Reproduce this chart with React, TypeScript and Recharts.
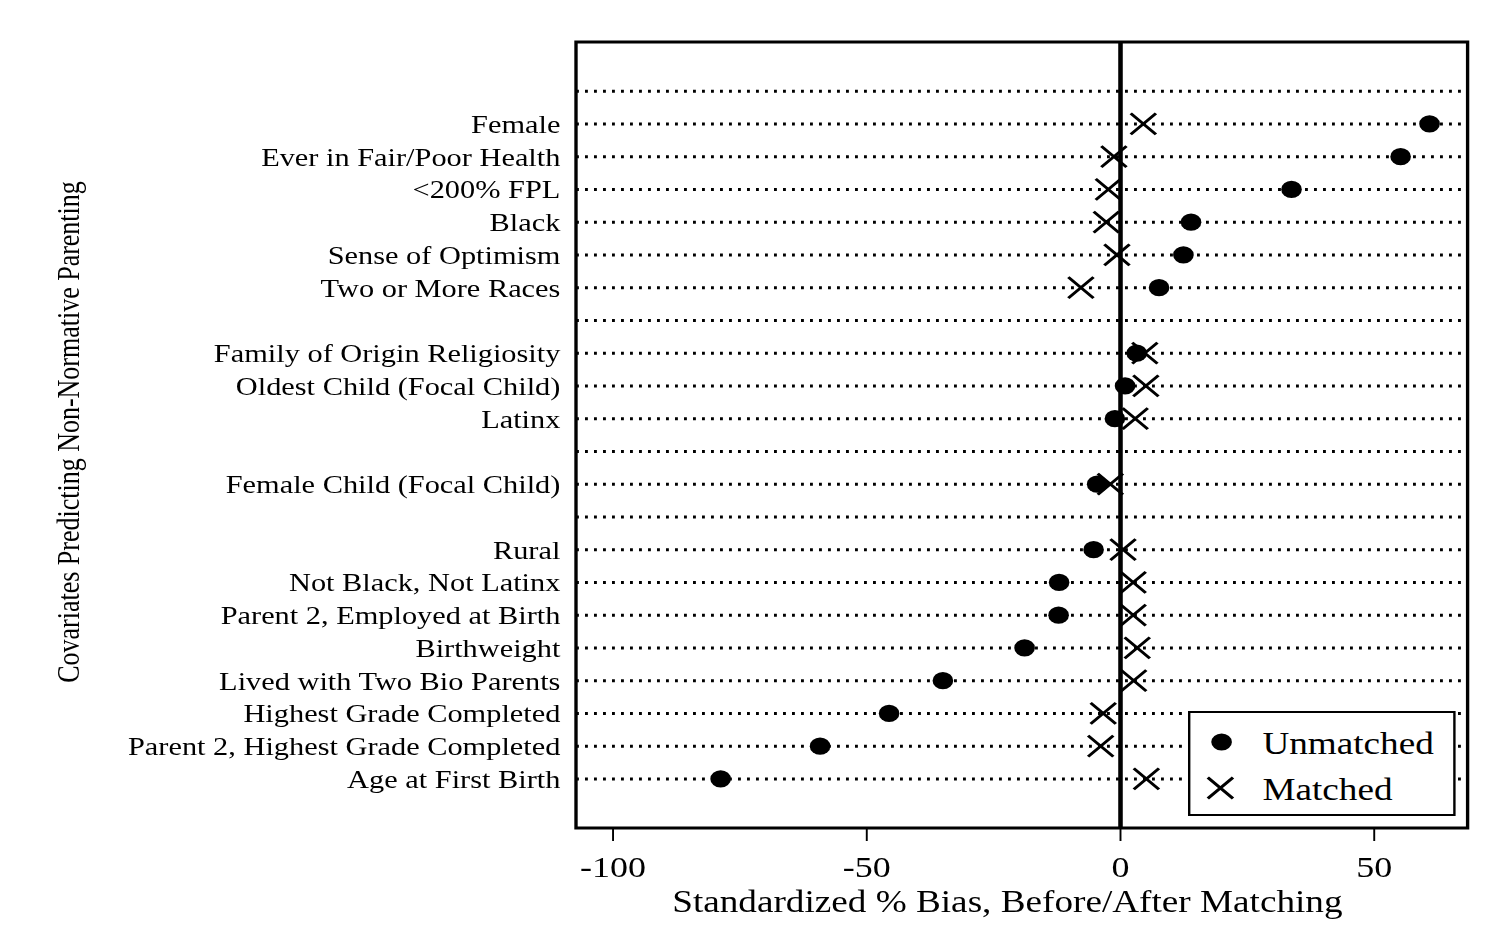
import {
  ScatterChart,
  Scatter,
  XAxis,
  YAxis,
  ReferenceLine,
  ReferenceArea,
  Legend,
} from "recharts";

// Rows from top to bottom; "" is a spacer row that only gets a dotted rule
const ROWS = [
  "",
  "Female",
  "Ever in Fair/Poor Health",
  "<200% FPL",
  "Black",
  "Sense of Optimism",
  "Two or More Races",
  "",
  "Family of Origin Religiosity",
  "Oldest Child (Focal Child)",
  "Latinx",
  "",
  "Female Child (Focal Child)",
  "",
  "Rural",
  "Not Black, Not Latinx",
  "Parent 2, Employed at Birth",
  "Birthweight",
  "Lived with Two Bio Parents",
  "Highest Grade Completed",
  "Parent 2, Highest Grade Completed",
  "Age at First Birth",
];

const COVARIATES = [
  "Female",
  "Ever in Fair/Poor Health",
  "<200% FPL",
  "Black",
  "Sense of Optimism",
  "Two or More Races",
  "Family of Origin Religiosity",
  "Oldest Child (Focal Child)",
  "Latinx",
  "Female Child (Focal Child)",
  "Rural",
  "Not Black, Not Latinx",
  "Parent 2, Employed at Birth",
  "Birthweight",
  "Lived with Two Bio Parents",
  "Highest Grade Completed",
  "Parent 2, Highest Grade Completed",
  "Age at First Birth",
];

// standardized % bias before matching
const UNMATCHED = [
  60.9, 55.2, 33.7, 13.9, 12.4, 7.6, 3.2, 0.9, -1.1, -4.6, -5.3, -12.1, -12.2,
  -18.9, -35.0, -45.6, -59.2, -78.8,
];

// standardized % bias after matching
const MATCHED = [
  4.5, -1.3, -2.4, -2.8, -0.7, -7.8, 4.8, 5.0, 2.9, -2.0, 0.5, 2.5, 2.5, 3.3,
  2.6, -3.4, -3.9, 5.1,
];

const SERIES = ["Unmatched", "Matched"];
const X_TICKS = [-100, -50, 0, 50];
const X_DOMAIN: [number, number] = [-107.3, 68.4];
const Y_DOMAIN: [number, number] = [-1.5, 22.5];

const FONT = '"Liberation Serif", "Times New Roman", Times, serif';
const SX = 1.2; // whole figure is drawn a little wide
const W = 1245;
const H = 952;

const rowOf = (name: string) => ROWS.indexOf(name);
const unmatchedData = COVARIATES.map((c, i) => ({ x: UNMATCHED[i], y: rowOf(c) }));
const matchedData = COVARIATES.map((c, i) => ({ x: MATCHED[i], y: rowOf(c) }));
const allRows = ROWS.map((_, i) => i);
const labelRows = ROWS.map((r, i) => (r ? i : -1)).filter((i) => i >= 0);

const Dot = ({ cx, cy }: any) => <circle cx={cx} cy={cy} r={8.6} fill="#000" />;

const Cross = ({ cx, cy }: any) => {
  const s = 10.5;
  return (
    <path
      d={`M${cx - s},${cy - s}L${cx + s},${cy + s}M${cx - s},${cy + s}L${cx + s},${cy - s}`}
      stroke="#000"
      strokeWidth={2.8}
      fill="none"
    />
  );
};

const RowTick = ({ x, y, payload }: any) => (
  <text x={x} y={y} dy={9} textAnchor="end" fontSize={25.3} fontFamily={FONT} fill="#000">
    {ROWS[payload.value]}
  </text>
);

const BiasTick = ({ x, y, payload }: any) => (
  <text x={x} y={y} dy={34} textAnchor="middle" fontSize={30} fontFamily={FONT} fill="#000">
    {payload.value}
  </text>
);

const LegendBox = ({ payload }: any) => {
  const items = SERIES.filter((s) => (payload || []).some((p: any) => p.value === s));
  return (
    <svg width={223} height={105}>
      <rect x={1} y={1} width={221} height={103} fill="#fff" stroke="#000" strokeWidth={2} />
      {items.map((name, i) => {
        const cy = 31 + i * 46;
        return (
          <g key={name}>
            {name === "Unmatched" ? <Dot cx={28} cy={cy} /> : <Cross cx={27} cy={cy} />}
            <text x={62} y={cy + 12} fontSize={31} fontFamily={FONT} fill="#000">
              {name}
            </text>
          </g>
        );
      })}
    </svg>
  );
};

export default function App() {
  return (
    <div style={{ width: W * SX, height: H, overflow: "hidden", background: "#fff" }}>
      <style>{"body{margin:0;background:#fff}"}</style>
      <div style={{ width: W, height: H, transform: `scaleX(${SX})`, transformOrigin: "0 0" }}>
        <ScatterChart width={W} height={H} margin={{ top: 42, right: 22, bottom: 0, left: 0 }}>
          <XAxis
            type="number"
            dataKey="x"
            domain={X_DOMAIN}
            ticks={X_TICKS}
            interval={0}
            allowDataOverflow
            height={124}
            axisLine={false}
            tickSize={13}
            tickLine={{ stroke: "#000", strokeWidth: 1.6 }}
            tick={<BiasTick />}
            label={{
              content: ({ viewBox }: any) => (
                <text
                  x={viewBox.x + viewBox.width / 2 - 12}
                  y={viewBox.y + 84}
                  textAnchor="middle"
                  fontSize={31}
                  fontFamily={FONT}
                  fill="#000"
                >
                  Standardized % Bias, Before/After Matching
                </text>
              ),
            }}
          />
          <YAxis
            type="number"
            dataKey="y"
            domain={Y_DOMAIN}
            reversed
            ticks={labelRows}
            interval={0}
            allowDataOverflow
            width={480}
            axisLine={false}
            tickLine={false}
            tickSize={13}
            tickMargin={0}
            tick={<RowTick />}
            label={{
              content: ({ viewBox }: any) => {
                const cy = viewBox.y + viewBox.height / 2 - 3;
                return (
                  <text
                    x={57}
                    y={cy}
                    transform={`rotate(-90, 57, ${cy})`}
                    textAnchor="middle"
                    dominantBaseline="central"
                    fontSize={26}
                    fontFamily={FONT}
                    fill="#000"
                  >
                    Covariates Predicting Non-Normative Parenting
                  </text>
                );
              },
            }}
          />
          {allRows.map((r) => (
            <ReferenceLine
              key={r}
              y={r}
              stroke="#000"
              strokeWidth={3}
              strokeDasharray="2.4 5.1"
            />
          ))}
          <ReferenceLine x={0} stroke="#000" strokeWidth={3.8} />
          <ReferenceArea
            x1={X_DOMAIN[0]}
            x2={X_DOMAIN[1]}
            y1={Y_DOMAIN[0]}
            y2={Y_DOMAIN[1]}
            fill="none"
            fillOpacity={0}
            stroke="#000"
            strokeWidth={2.8}
          />
          <Scatter name="Unmatched" data={unmatchedData} fill="#000" shape={<Dot />} isAnimationActive={false} />
          <Scatter name="Matched" data={matchedData} fill="#000" shape={<Cross />} isAnimationActive={false} />
          <Legend
            layout="vertical"
            align="center"
            verticalAlign="middle"
            content={<LegendBox />}
            wrapperStyle={{ left: 990, top: 711, width: 223, height: 105 }}
          />
        </ScatterChart>
      </div>
    </div>
  );
}
